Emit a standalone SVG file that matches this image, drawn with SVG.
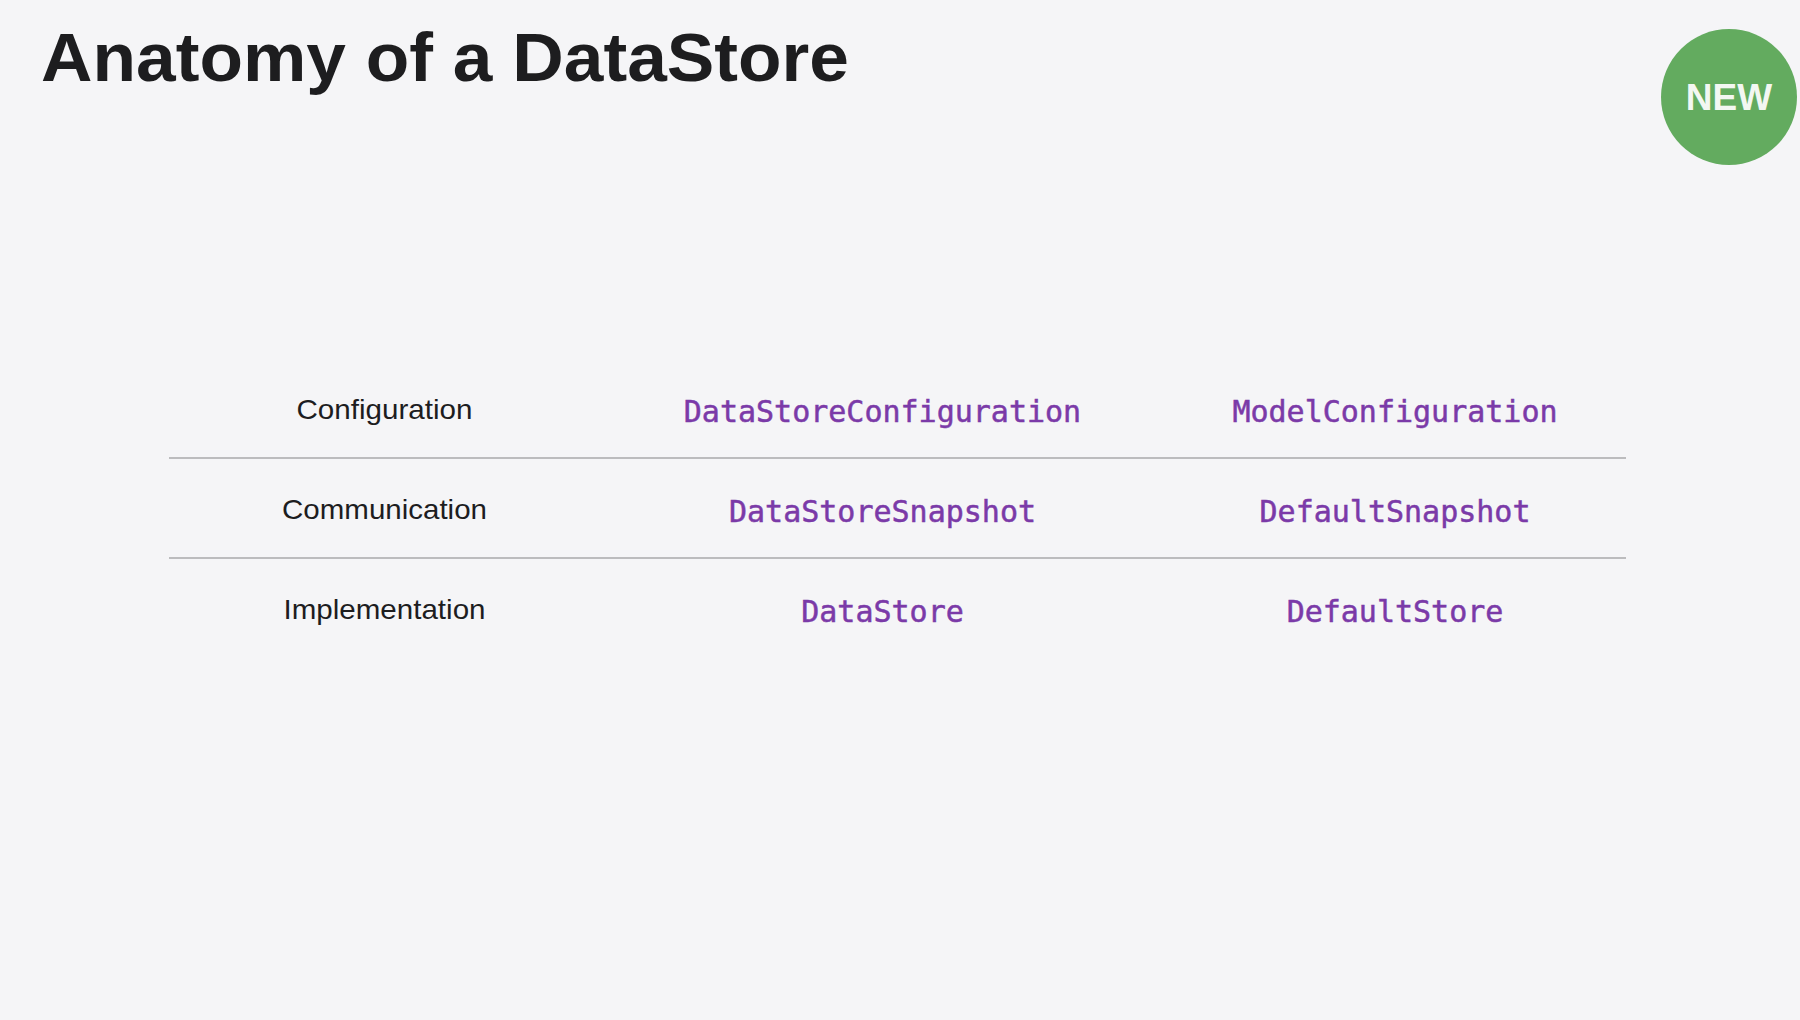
<svg xmlns="http://www.w3.org/2000/svg" width="1800" height="1020" viewBox="0 0 1800 1020">
  <style>
    .title { font-family: "Liberation Sans", Arial, sans-serif; font-weight: bold; font-size: 68px; fill: #1d1d1f; }
    .label { font-family: "Liberation Sans", Arial, sans-serif; font-size: 28.5px; fill: #1d1d1f; text-anchor: middle; }
    .code { font-family: "DejaVu Sans Mono", "Liberation Mono", monospace; font-size: 30px; fill: #7b3aa8; stroke: #7b3aa8; stroke-width: 0.5; text-anchor: middle; }
    .badge-text { font-family: "Liberation Sans", Arial, sans-serif; font-weight: bold; font-size: 37px; fill: #f3f7f2; text-anchor: middle; }
    .sep { stroke: #a9a9ab; stroke-width: 1.5; fill: none; }
  </style>
  <rect width="1800" height="1020" fill="#f5f5f7"/>
  <g id="title">
    <text class="title" x="41" y="81" textLength="808" lengthAdjust="spacingAndGlyphs">Anatomy of a DataStore</text>
  </g>
  <g id="new-badge">
    <circle cx="1729" cy="97" r="68" fill="#63ab5f"/>
    <text class="badge-text" x="1729" y="110">NEW</text>
  </g>
  <g id="separators">
    <line class="sep" x1="169" y1="458" x2="1626" y2="458"/>
    <line class="sep" x1="169" y1="558" x2="1626" y2="558"/>
  </g>
  <g id="row-configuration">
    <text class="label" x="384.5" y="419" textLength="176" lengthAdjust="spacingAndGlyphs">Configuration</text>
    <text class="code" x="882.5" y="422">DataStoreConfiguration</text>
    <text class="code" x="1395" y="422">ModelConfiguration</text>
  </g>
  <g id="row-communication">
    <text class="label" x="384.5" y="519" textLength="205" lengthAdjust="spacingAndGlyphs">Communication</text>
    <text class="code" x="882.5" y="522">DataStoreSnapshot</text>
    <text class="code" x="1395" y="522">DefaultSnapshot</text>
  </g>
  <g id="row-implementation">
    <text class="label" x="384.5" y="619" textLength="202" lengthAdjust="spacingAndGlyphs">Implementation</text>
    <text class="code" x="882.5" y="622">DataStore</text>
    <text class="code" x="1395" y="622">DefaultStore</text>
  </g>
</svg>
